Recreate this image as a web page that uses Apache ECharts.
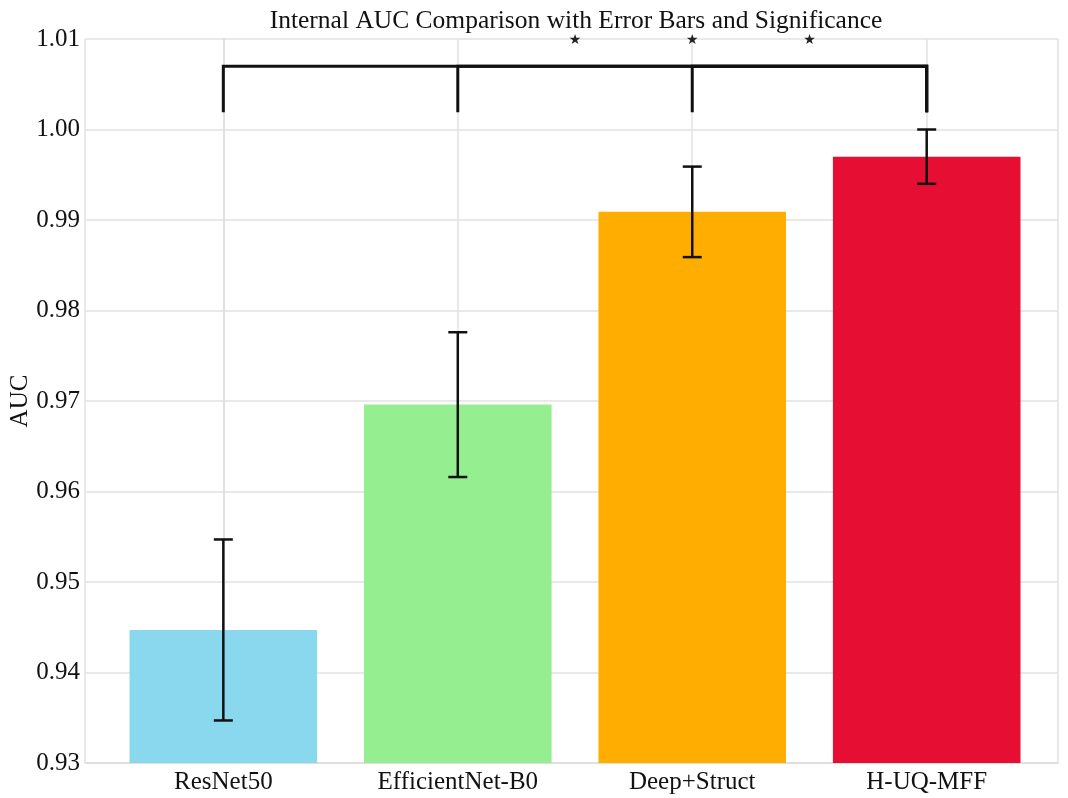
<!DOCTYPE html>
<html lang="en">
<head>
    <meta charset="UTF-8">
    <title>Internal AUC Comparison</title>
    <script src="https://cdn.jsdelivr.net/npm/echarts@6/dist/echarts.min.js"></script>
    <style>
        html, body { margin: 0; padding: 0; background: #fff; }
        #chart { width: 1068px; height: 798px; }
    </style>
</head>
<body>
<div id="chart"></div>
<script>
    // data
    var categories = ['ResNet50', 'EfficientNet-B0', 'Deep+Struct', 'H-UQ-MFF'];
    var aucMeans = [0.9447, 0.9696, 0.9909, 0.9970];
    var aucErrors = [0.0100, 0.0080, 0.0050, 0.0030];
    var yTicks = [0.93, 0.94, 0.95, 0.96, 0.97, 0.98, 0.99, 1.00, 1.01];
    // significance: each model against H-UQ-MFF
    var sigPairs = [[0, 3], [1, 3], [2, 3]];
    var sigMarks = ['★', '★', '★'];

    var barColors = ['#89d8ee', '#95ef90', '#ffae00', '#e60e32'];
    var font = '"Liberation Serif", "Times New Roman", serif';
    var yMin = yTicks[0], yMax = yTicks[yTicks.length - 1];
    var bracketTop = 1.0070, bracketDrop = 1.0019, starLevel = 1.0099;

    var chart = echarts.init(document.getElementById('chart'));

    chart.setOption({
        animation: false,
        backgroundColor: '#fff',
        title: {
            text: 'Internal AUC Comparison with Error Bars and Significance',
            left: 571,
            textAlign: 'center',
            top: 3,
            textStyle: { fontFamily: font, fontSize: 25.5, fontWeight: 'normal', color: '#111' }
        },
        grid: { left: 85, right: 10, top: 39, bottom: 35, outerBoundsMode: 'none' },
        xAxis: {
            type: 'value',
            min: -0.59,
            max: 3.56,
            axisLine: { show: true, lineStyle: { color: '#dcdcdc', width: 1.5 } },
            axisTick: { show: false },
            splitLine: { show: true, lineStyle: { color: '#e2e2e2', width: 1.5 } },
            axisLabel: {
                margin: 7,
                fontFamily: font,
                fontSize: 25,
                color: '#111',
                showMinLabel: true,
                showMaxLabel: true,
                formatter: function (v) {
                    var i = Math.round(v);
                    return Math.abs(v - i) < 1e-6 && categories[i] ? categories[i] : '';
                }
            }
        },
        yAxis: {
            type: 'value',
            min: yMin,
            max: yMax,
            interval: 0.01,
            name: 'AUC',
            nameLocation: 'middle',
            nameGap: 52,
            nameMoveOverlap: false,
            nameTextStyle: { fontFamily: font, fontSize: 25, color: '#111' },
            axisLine: { show: true, lineStyle: { color: '#dcdcdc', width: 1.5 } },
            axisTick: { show: false },
            splitLine: { show: true, lineStyle: { color: '#e2e2e2', width: 1.5 } },
            axisLabel: {
                margin: 5,
                fontFamily: font,
                fontSize: 25,
                color: '#111',
                formatter: function (v) { return v.toFixed(2); }
            }
        },
        series: [
            // bars
            {
                type: 'custom',
                data: categories.map(function (c, i) { return [i, aucMeans[i]]; }),
                renderItem: function (params, api) {
                    var x = api.value(0);
                    var top = api.coord([x, api.value(1)]);
                    var base = api.coord([x, yMin]);
                    var w = api.size([0.8, 0])[0];
                    return {
                        type: 'rect',
                        shape: { x: top[0] - w / 2, y: top[1], width: w, height: base[1] - top[1] },
                        style: { fill: barColors[params.dataIndex] }
                    };
                }
            },
            // error bars
            {
                type: 'custom',
                data: categories.map(function (c, i) {
                    return [i, aucMeans[i] - aucErrors[i], aucMeans[i] + aucErrors[i]];
                }),
                renderItem: function (params, api) {
                    var x = api.value(0);
                    var lo = api.coord([x, api.value(1)]);
                    var hi = api.coord([x, api.value(2)]);
                    var cap = 9.5;
                    var st = { stroke: '#111', lineWidth: 2.5 };
                    return {
                        type: 'group',
                        children: [
                            { type: 'line', shape: { x1: lo[0], y1: lo[1], x2: hi[0], y2: hi[1] }, style: st },
                            { type: 'line', shape: { x1: lo[0] - cap, y1: lo[1], x2: lo[0] + cap, y2: lo[1] }, style: st },
                            { type: 'line', shape: { x1: hi[0] - cap, y1: hi[1], x2: hi[0] + cap, y2: hi[1] }, style: st }
                        ]
                    };
                }
            },
            // significance brackets + stars
            {
                type: 'custom',
                clip: false,
                data: sigPairs.map(function (p) { return [p[0], p[1]]; }),
                renderItem: function (params, api) {
                    var a = api.value(0), b = api.value(1);
                    var aTop = api.coord([a, bracketTop]);
                    var bTop = api.coord([b, bracketTop]);
                    var aLow = api.coord([a, bracketDrop]);
                    var bLow = api.coord([b, bracketDrop]);
                    var star = api.coord([(a + b) / 2, starLevel]);
                    var st = { stroke: '#111', lineWidth: 3, fill: null };
                    return {
                        type: 'group',
                        children: [
                            {
                                type: 'polyline',
                                shape: { points: [[aLow[0], aLow[1]], [aTop[0], aTop[1]], [bTop[0], bTop[1]], [bLow[0], bLow[1]]] },
                                style: st
                            },
                            {
                                type: 'text',
                                x: star[0],
                                y: star[1],
                                style: {
                                    text: sigMarks[params.dataIndex],
                                    fontFamily: '"DejaVu Sans", sans-serif',
                                    fontSize: 14,
                                    fill: '#222',
                                    align: 'center',
                                    verticalAlign: 'middle'
                                }
                            }
                        ]
                    };
                }
            }
        ]
    });
</script>
</body>
</html>
